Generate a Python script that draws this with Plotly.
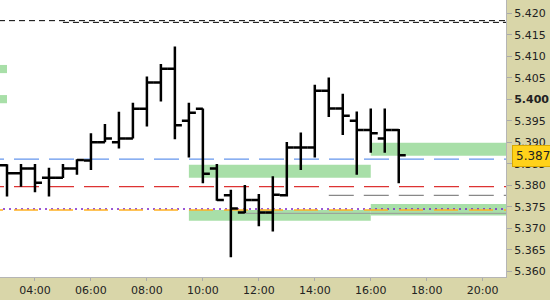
import plotly.graph_objects as go

DAY = "2024-01-15 "
times = ["02:30", "03:00", "03:30", "04:00", "04:30", "05:00", "05:30", "06:00", "06:30", "07:00",
         "07:30", "08:00", "08:30", "09:00", "09:30", "10:00", "10:30", "11:00", "11:30", "12:00",
         "12:30", "13:00", "13:30", "14:00", "14:30", "15:00", "15:30", "16:00", "16:30", "17:00"]
opens = [5.3855, 5.3847, 5.3828, 5.3839, 5.3818, 5.3818, 5.3839, 5.3858, 5.3900, 5.3900,
         5.3909, 5.3978, 5.4039, 5.4071, 5.3950, 5.3978, 5.3839, 5.3777, 5.3737, 5.3766,
         5.3737, 5.3777, 5.3888, 5.3888, 5.4020, 5.3979, 5.3950, 5.3929, 5.3909, 5.3929]
highs = [5.3866, 5.3849, 5.3850, 5.3850, 5.3841, 5.3850, 5.3861, 5.3921, 5.3943, 5.3971,
         5.3992, 5.4053, 5.4082, 5.4123, 5.3992, 5.3979, 5.3850, 5.3790, 5.3801, 5.3780,
         5.3821, 5.3901, 5.3923, 5.4034, 5.4051, 5.4013, 5.3972, 5.3979, 5.3979, 5.3931]
lows = [5.3848, 5.3774, 5.3797, 5.3784, 5.3774, 5.3817, 5.3825, 5.3836, 5.3900, 5.3886,
        5.3909, 5.3937, 5.3995, 5.3907, 5.3865, 5.3805, 5.3764, 5.3633, 5.3736, 5.3705,
        5.3693, 5.3774, 5.3836, 5.3865, 5.3959, 5.3917, 5.3825, 5.3876, 5.3876, 5.3805]
closes = [5.3859, 5.3828, 5.3839, 5.3806, 5.3818, 5.3839, 5.3859, 5.3900, 5.3909, 5.3909,
          5.3978, 5.4039, 5.4071, 5.3940, 5.3969, 5.3827, 5.3766, 5.3746, 5.3766, 5.3737,
          5.3778, 5.3888, 5.3888, 5.4020, 5.3979, 5.3962, 5.3929, 5.3921, 5.3929, 5.3870]

# zones: (start, end, low, high)
zone_starts = ["02:00", "02:00", "09:30", "09:30", "16:00", "16:00"]
zone_ends = ["03:00", "03:00", "16:00", "16:00", "21:30", "21:30"]
zone_lows = [5.4061, 5.3991, 5.3818, 5.3718, 5.3869, 5.3730]
zone_highs = [5.4080, 5.4010, 5.3848, 5.3743, 5.3899, 5.3757]

# level lines: (start, price, color, dash, width)
line_starts = ["02:00", "05:00", "02:00", "02:00", "14:30", "02:00", "02:00", "11:30"]
line_prices = [5.4183, 5.4179, 5.3861, 5.3797, 5.3777, 5.3745, 5.3743, 5.3735]
line_colors = ["#000000", "#000000", "#6495ed", "#dd3333", "#888888", "#7a1fc8", "#ffb020", "#999999"]
line_dashes = ["6px,4px", "6px,4px", "25px,10px", "25px,10px", "25px,10px", "2px,4px", "24px,11px", "solid"]
line_widths = [1, 1, 1.2, 1.2, 1.2, 1.5, 1.5, 1]
line_end = "21:30"

last_price = 5.387
ytick_vals = [5.360, 5.365, 5.370, 5.375, 5.380, 5.385, 5.390, 5.395, 5.400, 5.405, 5.410, 5.415, 5.420]
ytick_text = ["5.360", "5.365", "5.370", "5.375", "5.380", "5.385", "5.390", "5.395", "<b>5.400</b>",
              "5.405", "5.410", "5.415", "5.420"]

fig = go.Figure()
fig.add_trace(go.Ohlc(
    x=[DAY + t for t in times], open=opens, high=highs, low=lows, close=closes,
    increasing=dict(line=dict(color="black", width=2.5)),
    decreasing=dict(line=dict(color="black", width=2.5)),
    tickwidth=0.5, hoverinfo="skip", showlegend=False,
))

shapes = []
for s, e, lo, hi in zip(zone_starts, zone_ends, zone_lows, zone_highs):
    shapes.append(dict(type="rect", xref="x", yref="y", x0=DAY + s, x1=DAY + e, y0=lo, y1=hi,
                       fillcolor="#a8dfa8", line=dict(width=0), layer="below"))
for s, p, c, d, w in zip(line_starts, line_prices, line_colors, line_dashes, line_widths):
    shapes.append(dict(type="line", xref="x", yref="y", x0=DAY + s, x1=DAY + line_end, y0=p, y1=p,
                       line=dict(color=c, dash=d, width=w), layer="below"))

fig.update_layout(
    width=550, height=300,
    margin=dict(l=0, r=44, t=0, b=23),
    paper_bgcolor="#d9d6a9", plot_bgcolor="white",
    font=dict(family="DejaVu Sans", size=11, color="#222222"),
    shapes=shapes,
    showlegend=False,
    xaxis=dict(
        type="date", range=[DAY + "02:45", DAY + "20:50"],
        rangeslider=dict(visible=False),
        tickformat="%H:%M", dtick=7200000, tick0=DAY + "00:00",
        ticks="outside", ticklen=3, tickcolor="#aaaaaa",
        showline=True, linecolor="#b5b5b5", linewidth=1,
        showgrid=False, zeroline=False, fixedrange=True,
    ),
    yaxis=dict(
        side="right", range=[5.3587, 5.4231],
        tickvals=ytick_vals, ticktext=ytick_text,
        ticks="outside", ticklen=5, tickcolor="#aaaaaa",
        showline=True, linecolor="#b5b5b5", linewidth=1,
        showgrid=False, zeroline=False, fixedrange=True,
    ),
    annotations=[dict(
        xref="paper", yref="y", x=1, y=last_price, xanchor="left", yanchor="middle",
        xshift=6, yshift=-1, text="5.387", showarrow=False,
        font=dict(family="DejaVu Sans", size=12, color="#222222"),
        bgcolor="#ffd21a", bordercolor="#d8a800", borderwidth=1, borderpad=3,
    )],
)

fig.write_html("out.html", config={"displayModeBar": False, "staticPlot": True})
